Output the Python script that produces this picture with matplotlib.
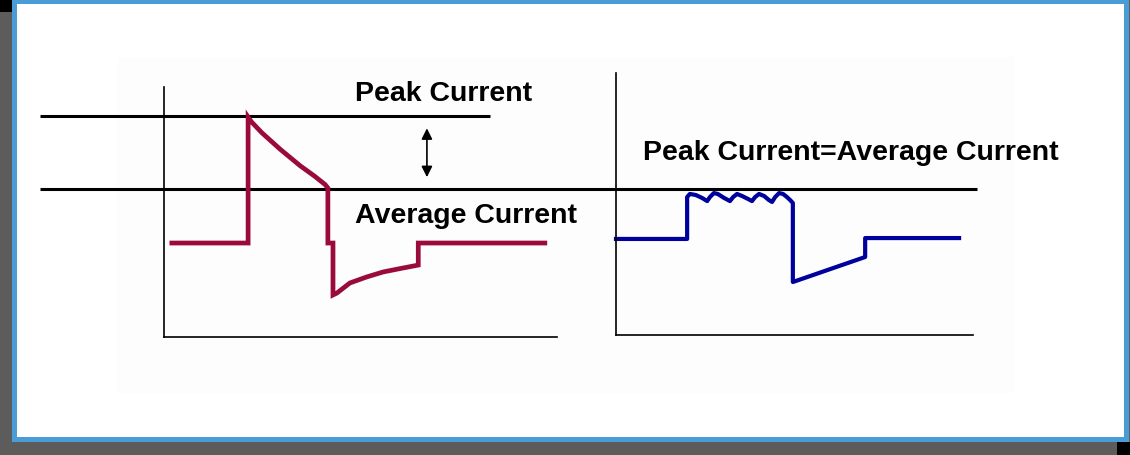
import matplotlib
matplotlib.use("Agg")
import matplotlib.pyplot as plt
from matplotlib.patches import Rectangle

# current in units of the average current, time in ms
peak_level = 1.49
avg_level = 1.0

red_t = [0.20, 2.14, 2.14, 2.22, 2.49, 2.95, 3.46, 3.84, 4.10, 4.17, 4.17, 4.30, 4.30,
         4.40, 4.73, 5.15, 5.57, 6.00, 6.47, 6.47, 9.69]
red_i = [0.635, 0.635, 1.486, 1.455, 1.38, 1.27, 1.158, 1.085, 1.03, 1.007, 0.635, 0.635, 0.284,
         0.297, 0.365, 0.405, 0.439, 0.462, 0.486, 0.635, 0.635]

blue_t = [0.0, 1.81, 1.81, 1.88, 2.03, 2.19, 2.32, 2.39, 2.49, 2.59, 2.75, 2.90, 2.98, 3.08,
          3.21, 3.36, 3.46, 3.54, 3.64, 3.77, 3.89, 3.97, 4.05, 4.15, 4.25, 4.35, 4.43, 4.50,
          4.50, 6.34, 6.34, 8.73]
blue_i = [0.649, 0.649, 0.932, 0.953, 0.946, 0.926, 0.905, 0.932, 0.959, 0.953, 0.926, 0.905,
          0.932, 0.953, 0.939, 0.919, 0.905, 0.932, 0.953, 0.939, 0.912, 0.899, 0.932, 0.959,
          0.953, 0.932, 0.912, 0.892, 0.358, 0.527, 0.655, 0.655]

W, H = 1130, 455
fig = plt.figure(figsize=(W / 100, H / 100), dpi=100)
fig.patch.set_facecolor("#5c5c5c")

def box(x0, y0, x1, y1, color):
    fig.patches.append(Rectangle((x0 / W, 1 - y1 / H), (x1 - x0) / W, (y1 - y0) / H,
                                 transform=fig.transFigure, facecolor=color,
                                 edgecolor="none", zorder=-10))

box(0, 0, 12, 12, "black")
box(1117, 442, 1130, 455, "black")
box(12, 0, 1129, 442, "#4a9cd6")
box(17, 4, 1124, 437, "white")
box(117, 57, 1015, 393, "#fdfdfd")

plt.rcParams["font.family"] = ["Liberation Sans", "DejaVu Sans"]
txt = dict(fontsize=20.5, fontweight="bold", color="black", ha="left", va="baseline")

px = 39.3   # pixels per ms
py = 148.0  # pixels per unit current

ax1 = fig.add_axes([164 / W, 1 - 337 / H, 393 / W, 250 / H])
ax1.set_xlim(0, 393 / px)
ax1.set_ylim(0, 250 / py)
ax2 = fig.add_axes([616 / W, 1 - 335 / H, 357 / W, 262 / H])
ax2.set_xlim(0, 357 / px)
ax2.set_ylim(0, 262 / py)

for ax in (ax1, ax2):
    ax.set_zorder(5)
    ax.patch.set_alpha(0)
    ax.spines[["top", "right"]].set_visible(False)
    ax.spines[["left", "bottom"]].set_linewidth(1.2)
    ax.set_xticks([])
    ax.set_yticks([])

# peak / average reference lines run past the axes
ax1.plot([-124 / px, 326 / px], [peak_level, peak_level], color="black", lw=2.2,
         clip_on=False, solid_capstyle="butt")
ax1.plot([-124 / px, 813 / px], [avg_level, avg_level], color="black", lw=2.2,
         clip_on=False, solid_capstyle="butt")

ax1.plot(red_t, red_i, color="#9a0b3c", lw=3.4, solid_joinstyle="miter", clip_on=False)
ax2.plot(blue_t, blue_i, color="#00009c", lw=3.0, solid_joinstyle="round", clip_on=False)

ax1.annotate("", xy=(6.69, 1.41), xytext=(6.69, 1.08),
             arrowprops=dict(arrowstyle="<|-|>", color="black", lw=1.2,
                             mutation_scale=16, shrinkA=0, shrinkB=0))

ax1.text(4.86, 1.595, "Peak Current", **txt)
ax1.text(4.86, 0.77, "Average Current", **txt)
ax2.text(0.687, 1.18, "Peak Current=Average Current", **txt)

fig.savefig("out.png", dpi=100, facecolor=fig.get_facecolor())
